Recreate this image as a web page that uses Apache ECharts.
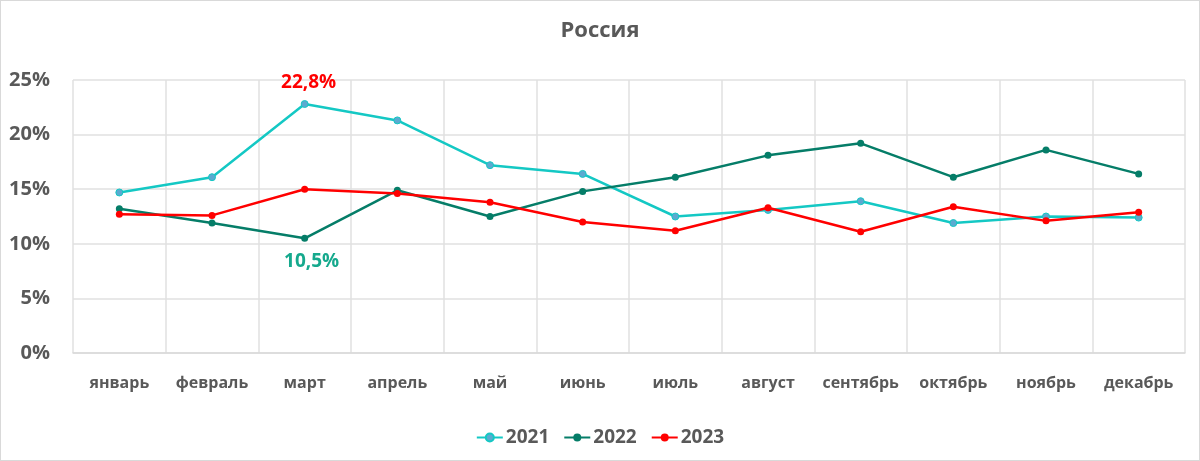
<!DOCTYPE html>
<html>
<head>
<meta charset="utf-8">
<script src="https://cdn.jsdelivr.net/npm/echarts@6/dist/echarts.min.js"></script>
<style>
html,body{margin:0;padding:0;background:#fff;}
#wrap{position:relative;width:1200px;height:461px;}
#c{width:1200px;height:461px;}
#frame{position:absolute;left:0;top:0;width:1200px;height:461px;box-sizing:border-box;border:1px solid #d9d9d9;pointer-events:none;}
</style>
</head>
<body>
<div id="wrap"><div id="c"></div><div id="frame"></div></div>
<script>
const categories = ['январь','февраль','март','апрель','май','июнь','июль','август','сентябрь','октябрь','ноябрь','декабрь'];
const y2021 = [14.7, 16.1, 22.8, 21.3, 17.2, 16.4, 12.5, 13.1, 13.9, 11.9, 12.5, 12.4];
const y2022 = [13.2, 11.9, 10.5, 14.9, 12.5, 14.8, 16.1, 18.1, 19.2, 16.1, 18.6, 16.4];
const y2023 = [12.7, 12.6, 15.0, 14.6, 13.8, 12.0, 11.2, 13.3, 11.1, 13.4, 12.1, 12.9];
const yTicks = [0, 5, 10, 15, 20, 25];

const FONT = '"Open Sans", "Noto Sans", sans-serif';
const grey = '#595959';
const fmt = v => v.toFixed(1).replace('.', ',') + '%';

const chart = echarts.init(document.getElementById('c'));
chart.setOption({
  animation: false,
  textStyle: {fontFamily: FONT},
  title: {
    text: 'Россия', left: 'center', top: 15,
    textStyle: {fontFamily: FONT, fontSize: 22, fontWeight: 'bold', color: grey}
  },
  legend: {
    bottom: 9, left: 'center', itemGap: 14, itemWidth: 26, itemHeight: 10,
    textStyle: {fontFamily: FONT, fontSize: 19, fontWeight: 'bold', color: grey, padding: [0,0,0,-2]},
    data: ['2021','2022','2023']
  },
  grid: {left: 73, right: 15, top: 80, bottom: 108, containLabel: false},
  xAxis: {
    type: 'category', data: categories, boundaryGap: true,
    axisLine: {lineStyle: {color: '#d9d9d9', width: 1.5}},
    axisTick: {show: false},
    splitLine: {show: true, interval: 0, lineStyle: {color: '#e0e0e0', width: 1.5}},
    axisLabel: {interval: 0, margin: 22, fontFamily: FONT, fontSize: 16, fontWeight: 'bold', color: grey}
  },
  yAxis: {
    type: 'value', min: yTicks[0], max: yTicks[yTicks.length-1], interval: 5,
    axisLine: {show: false}, axisTick: {show: false},
    splitLine: {lineStyle: {color: '#e0e0e0', width: 1.5}},
    axisLabel: {margin: 23, fontFamily: FONT, fontSize: 20, fontWeight: 'bold', color: grey, formatter: v => v + '%'}
  },
  series: [
    {
      name: '2021', type: 'line', data: y2021, symbol: 'circle', symbolSize: 7,
      lineStyle: {color: '#14C8C4', width: 2.5}, itemStyle: {color: '#5BAAD0', borderColor: '#14C8C4', borderWidth: 1},
      label: {show: true, position: 'top', distance: 8, offset: [4, 0],
        formatter: p => p.dataIndex === 2 ? fmt(p.value) : '',
        fontFamily: FONT, fontSize: 19, fontWeight: 'bold', color: '#FF0000'},
      z: 2
    },
    {
      name: '2022', type: 'line', data: y2022, symbol: 'circle', symbolSize: 7,
      lineStyle: {color: '#057D68', width: 2.5}, itemStyle: {color: '#057D68'},
      label: {show: true, position: 'bottom', distance: 10, offset: [7, 0],
        formatter: p => p.dataIndex === 2 ? fmt(p.value) : '',
        fontFamily: FONT, fontSize: 19, fontWeight: 'bold', color: '#15A98D'},
      z: 3
    },
    {
      name: '2023', type: 'line', data: y2023, symbol: 'circle', symbolSize: 7,
      lineStyle: {color: '#FF0000', width: 2.5}, itemStyle: {color: '#FF0000'},
      label: {show: false},
      z: 4
    }
  ]
});
</script>
</body>
</html>
